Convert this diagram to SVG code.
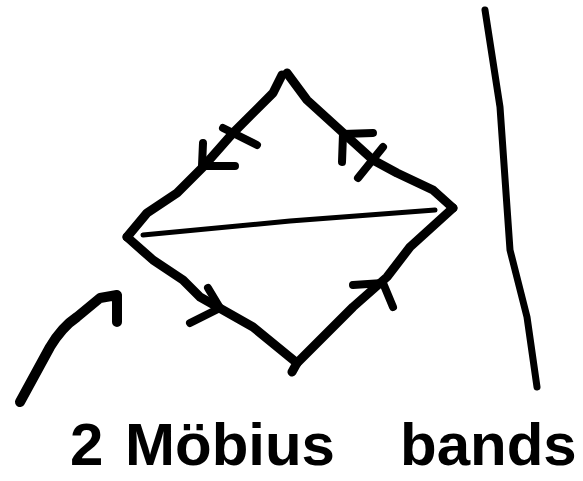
<svg xmlns="http://www.w3.org/2000/svg" width="583" height="481" viewBox="0 0 583 481">
<style>
.s{fill:none;stroke:#000;stroke-linecap:round;stroke-linejoin:round}
.e{stroke-width:9}
.m{stroke-width:8}
.t{stroke-width:5}
.lbl{font-family:"Liberation Sans",Arial,sans-serif;font-weight:bold;font-size:60px;fill:#000}
</style>
<rect width="583" height="481" fill="#fff"/>
<g id="connectors">
<g id="diamond">
<path class="s e" d="M282,75 L273,93 L233,133 L203,167 L177,193 L147,213 L127,237"/>
<path class="s e" d="M287,73 L307,100 L340,130 L373,160 L397,173 L433,190 L453,208"/>
<path class="s e" d="M127,237 L153,260 L183,280 L200,297 L223,310 L253,327 L297,363 L292,372"/>
<path class="s e" d="M297,363 L320,340 L353,307 L387,277 L410,247 L453,208"/>
<path class="s t" d="M143,235 L290,221 L435,210"/>
</g>
<g id="marks">
<path class="s m" d="M223,128 L257,145"/>
<path class="s m" d="M203,143 L202,166 L235,166"/>
<path class="s m" d="M373,133 L343,134 L342,162"/>
<path class="s m" d="M383,147 L358,178"/>
<path class="s m" d="M208,288 L220,308 L190,323"/>
<path class="s m" d="M353,285 L383,283 L393,307"/>
</g>
<path id="pointer" class="s" stroke-width="10" d="M20,402 L50,347 Q62,327 77,317 L100,298 L117,295 L117,322"/>
<path id="divider" class="s" stroke-width="7" d="M485,10 L500,107 L510,250 L527,317 L537,387"/>
</g>
<g id="label">
<text class="lbl" y="465"><tspan x="70">2</tspan><tspan x="125">Möbius</tspan><tspan x="400">bands</tspan></text>
</g>
</svg>
